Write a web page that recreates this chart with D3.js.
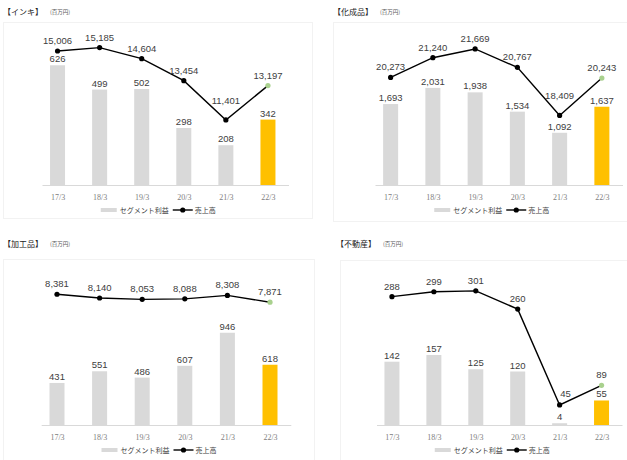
<!DOCTYPE html>
<html>
<head>
<meta charset="utf-8">
<script src="https://cdn.jsdelivr.net/npm/d3@7"></script>
<style>
  body { margin: 0; background: #fff; }
  svg { display: block; }
</style>
</head>
<body>
<div id="chart"></div>
<script>
// data (百万円)
var years = ["17/3", "18/3", "19/3", "20/3", "21/3", "22/3"];

var inkProfit = [626, 499, 502, 298, 208, 342];
var inkSales = [15006, 15185, 14604, 13454, 11401, 13197];

var chemProfit = [1693, 2031, 1938, 1534, 1092, 1637];
var chemSales = [20273, 21240, 21669, 20767, 18409, 20243];

var procProfit = [431, 551, 486, 607, 946, 618];
var procSales = [8381, 8140, 8053, 8088, 8308, 7871];

var realProfit = [142, 157, 125, 120, 4, 55];
var realSales = [288, 299, 301, 260, 45, 89];

var width = 627, height = 460;

var svg = d3.select("#chart")
  .append("svg")
  .attr("width", width)
  .attr("height", height);

// one entry per panel: where it sits and how its two axes run
// lift / shift = px some sales labels were moved by hand in the original
var panels = [
  { title: "【インキ】", tx: 3, ty: 15, box: [3, 22, 312, 218],
    x0: 36.5, x1: 289, top: 32, base: 185, barMax: 800, lineDomain: [8000, 16000],
    lift: [0, 0, 0, 0, 9, 0], shift: [0, 0, 0, 0, 0, 0],
    profit: inkProfit, sales: inkSales },
  { title: "【化成品】", tx: 333, ty: 15, box: [333, 22, 640, 221],
    x0: 369.5, x1: 623, top: 32, base: 185, barMax: 3200, lineDomain: [15000, 22500],
    lift: [0, 0, 0, 0, 9, 0], shift: [0, 0, 0, 0, 0, 0],
    profit: chemProfit, sales: chemSales },
  { title: "【加工品】", tx: 3, ty: 247, box: [3, 259, 314, 470],
    x0: 35.7, x1: 291.3, top: 269, base: 425, barMax: 1600, lineDomain: [0, 10000],
    lift: [0, 0, 0, 0, 0, 0], shift: [0, 0, 0, 0, 0, 0],
    profit: procProfit, sales: procSales },
  { title: "【不動産】", tx: 336, ty: 247, box: [340, 260, 640, 470],
    x0: 371, x1: 622.5, top: 269, base: 425, barMax: 350, lineDomain: [0, 350],
    lift: [0, 0, 0, 0, 1, 0], shift: [0, 0, 0, 0, 6, 0],
    profit: realProfit, sales: realSales }
];

var fmt = d3.format(",");

panels.forEach(function (p) {
  var g = svg.append("g");

  // faint chart-area frame
  g.append("rect")
    .attr("x", p.box[0] + 0.5)
    .attr("y", p.box[1] + 0.5)
    .attr("width", p.box[2] - p.box[0])
    .attr("height", p.box[3] - p.box[1])
    .attr("fill", "none")
    .attr("stroke", "#f2f2f2");

  g.append("text")
    .attr("x", p.tx)
    .attr("y", p.ty)
    .attr("font-family", "'Noto Sans CJK JP'")
    .attr("font-size", 8)
    .attr("fill", "#222")
    .text(p.title);

  g.append("text")
    .attr("x", p.tx + 47)
    .attr("y", p.ty - 1)
    .attr("font-family", "'Noto Sans CJK JP'")
    .attr("font-size", 5.5)
    .attr("fill", "#555")
    .text("(百万円)");

  var x = d3.scalePoint()
    .domain(years)
    .range([p.x0, p.x1])
    .padding(0.5);

  var step = x.step();
  var barW = 15;

  var yBar = d3.scaleLinear()
    .domain([0, p.barMax])
    .range([p.base, p.top]);

  var yLine = d3.scaleLinear()
    .domain(p.lineDomain)
    .range([p.base, p.top]);

  // bars
  g.selectAll("rect.bar")
    .data(p.profit)
    .enter()
    .append("rect")
    .attr("class", "bar")
    .attr("x", function (d, i) { return x(years[i]) - barW / 2; })
    .attr("y", function (d) { return yBar(d); })
    .attr("width", barW)
    .attr("height", function (d) { return p.base - yBar(d); })
    .attr("fill", function (d, i) { return i == years.length - 1 ? "#ffc000" : "#d9d9d9"; });

  // x axis
  var axis = g.append("g")
    .attr("transform", "translate(0," + p.base + ")")
    .call(d3.axisBottom(x).tickSize(0).tickPadding(9));
  axis.select(".domain")
    .attr("d", "M" + (x(years[0]) - step / 2 + 6) + ",0.5H" + (x(years[5]) + step / 2))
    .attr("stroke", "#d9d9d9");
  axis.selectAll("text")
    .attr("font-family", "'Liberation Serif'")
    .attr("font-size", 8)
    .attr("fill", "#808080");

  // bar labels
  g.selectAll("text.blab")
    .data(p.profit)
    .enter()
    .append("text")
    .attr("class", "blab")
    .attr("x", function (d, i) { return x(years[i]); })
    .attr("y", function (d) { return yBar(d) - 3; })
    .attr("text-anchor", "middle")
    .attr("font-family", "'Liberation Sans'")
    .attr("font-size", 9.5)
    .attr("fill", "#404040")
    .text(function (d) { return fmt(d); });

  // sales line
  var line = d3.line()
    .x(function (d, i) { return x(years[i]); })
    .y(function (d) { return yLine(d); });

  g.append("path")
    .datum(p.sales)
    .attr("d", line)
    .attr("fill", "none")
    .attr("stroke", "#000")
    .attr("stroke-width", 1.4);

  g.selectAll("circle.pt")
    .data(p.sales)
    .enter()
    .append("circle")
    .attr("class", "pt")
    .attr("cx", function (d, i) { return x(years[i]); })
    .attr("cy", function (d) { return yLine(d); })
    .attr("r", 2.6)
    .attr("fill", function (d, i) { return i == years.length - 1 ? "#a9d18e" : "#000"; });

  g.selectAll("text.llab")
    .data(p.sales)
    .enter()
    .append("text")
    .attr("class", "llab")
    .attr("x", function (d, i) { return x(years[i]) + p.shift[i]; })
    .attr("y", function (d, i) { return yLine(d) - 7 - p.lift[i]; })
    .attr("text-anchor", "middle")
    .attr("font-family", "'Liberation Sans'")
    .attr("font-size", 9.5)
    .attr("fill", "#404040")
    .text(function (d) { return fmt(d); });

  // legend
  var lx = (p.x0 + p.x1) / 2 - 62;
  var ly = p.base + 25;
  var leg = g.append("g").attr("transform", "translate(" + lx + "," + ly + ")");
  leg.append("rect")
    .attr("x", 0).attr("y", -2)
    .attr("width", 16).attr("height", 4)
    .attr("fill", "#d9d9d9");
  leg.append("text")
    .attr("x", 19).attr("y", 3)
    .attr("font-family", "'Noto Sans CJK JP'")
    .attr("font-size", 7)
    .attr("fill", "#404040")
    .text("セグメント利益");
  leg.append("line")
    .attr("x1", 72).attr("x2", 92)
    .attr("y1", 0).attr("y2", 0)
    .attr("stroke", "#000")
    .attr("stroke-width", 1.4);
  leg.append("circle")
    .attr("cx", 82).attr("cy", 0).attr("r", 2.6)
    .attr("fill", "#000");
  leg.append("text")
    .attr("x", 94).attr("y", 3)
    .attr("font-family", "'Noto Sans CJK JP'")
    .attr("font-size", 7)
    .attr("fill", "#404040")
    .text("売上高");
});
</script>
</body>
</html>
